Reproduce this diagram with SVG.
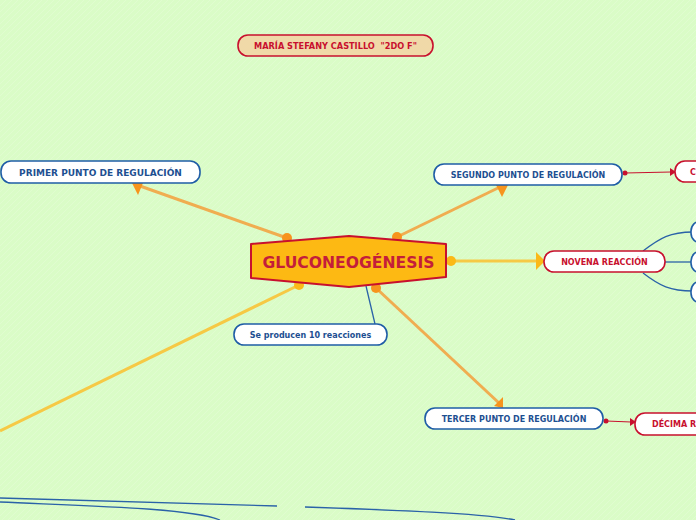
<svg xmlns="http://www.w3.org/2000/svg" width="696" height="520" viewBox="0 0 696 520">
<defs>
<pattern id="bg" width="6" height="6" patternUnits="userSpaceOnUse">
<rect width="6" height="6" fill="#dafcc7"/>
<path d="M-1,7 L7,-1 M-1,1 L1,-1 M5,7 L7,5" stroke="#e0fcd0" stroke-width="1"/>
</pattern>
<style>
.t{font-family:"DejaVu Sans",Verdana,sans-serif;font-weight:bold;text-anchor:middle;}
.bn rect{fill:#ffffff;stroke:#1f5da6;stroke-width:1.6;}
.rn rect{fill:#ffffff;stroke:#c8102e;stroke-width:1.6;}
.bt{fill:#1d4f91;font-size:8px;}
.rt{fill:#c8102e;font-size:8px;}
.ol{stroke:#f0ad50;stroke-width:3;fill:none;}
.yl{stroke:#f6c945;stroke-width:3;fill:none;}
.bl{stroke:#2a62a8;stroke-width:1.3;fill:none;}
.rl{stroke:#c8102e;stroke-width:1;fill:none;}
.od{fill:#f7941d;}
.yd{fill:#fbb917;}
</style>
</defs>
<rect width="696" height="520" fill="url(#bg)"/>

<g id="connectors">
<line class="ol" x1="287" y1="238" x2="140" y2="186"/>
<polygon class="od" points="132,183 143,183 138,195"/>
<line class="ol" x1="397" y1="237" x2="500" y2="187"/>
<polygon class="od" points="496,185 508,185 502,197"/>
<line class="ol" x1="376" y1="288" x2="499" y2="403"/>
<polygon class="od" points="494,406 503,397 503,408"/>
<line class="yl" x1="451" y1="261" x2="538" y2="261"/>
<polygon class="yd" points="536,252 545,261 536,270"/>
<line class="yl" x1="299" y1="285" x2="0" y2="431"/>
<line class="bl" x1="366" y1="286" x2="375" y2="324"/>
<circle class="od" cx="287" cy="238" r="5"/>
<circle class="od" cx="397" cy="237" r="5"/>
<circle class="yd" cx="451" cy="261" r="5"/>
<circle class="od" cx="376" cy="288" r="5"/>
<circle class="yd" cx="299" cy="285" r="5"/>
<line class="rl" x1="625" y1="173" x2="671" y2="172"/>
<circle fill="#c8102e" cx="625" cy="173" r="2.5"/>
<polygon fill="#c8102e" points="670,168 676,172 670,176"/>
<line class="rl" x1="606" y1="421" x2="631" y2="422"/>
<circle fill="#c8102e" cx="606" cy="421" r="2.5"/>
<polygon fill="#c8102e" points="630,418 636,422 630,426"/>
<path class="bl" d="M643,251 C660,238 670,232 693,232"/>
<line class="bl" x1="665" y1="262" x2="693" y2="262"/>
<path class="bl" d="M643,273 C660,286 670,291 693,291"/>
<line class="bl" x1="0" y1="498" x2="277" y2="506"/>
<path class="bl" d="M0,502 C90,506 190,508 220,520"/>
<path class="bl" d="M305,507 C390,510 480,513 515,520"/>
</g>

<g id="central">
<polygon points="251,244 349,236 446,244 446,277 349,287 251,278" fill="#fdb913" stroke="#c8102e" stroke-width="2" stroke-linejoin="round"/>
<text class="t" x="348.5" y="267.5" font-size="15.6" fill="#c41e3a">GLUCONEOGÉNESIS</text>
</g>

<g id="autor">
<rect x="238" y="35" width="195" height="21" rx="10" fill="#f0d9a8" stroke="#c8102e" stroke-width="1.6"/>
<text class="t" x="335.5" y="49" font-size="8.2" fill="#c8102e" style="white-space:pre">MARÍA STEFANY CASTILLO  "2DO F"</text>
</g>

<g id="primer" class="bn">
<rect x="1" y="161" width="199" height="22" rx="10"/>
<text class="t bt" x="100.5" y="175.5" style="font-size:9px">PRIMER PUNTO DE REGULACIÓN</text>
</g>

<g id="segundo" class="bn">
<rect x="434" y="164" width="188" height="21" rx="10"/>
<text class="t bt" x="528" y="177.5">SEGUNDO PUNTO DE REGULACIÓN</text>
</g>

<g id="segundo-hijo" class="rn">
<rect x="675" y="161" width="60" height="21" rx="10"/>
<text class="t rt" x="693" y="174.5">C</text>
</g>

<g id="novena" class="rn">
<rect x="544" y="251" width="121" height="21" rx="10"/>
<text class="t rt" x="604.5" y="264.5">NOVENA REACCIÓN</text>
</g>

<g id="novena-1" class="bn"><rect x="691" y="221" width="40" height="22" rx="10"/></g>
<g id="novena-2" class="bn"><rect x="691" y="251" width="40" height="22" rx="10"/></g>
<g id="novena-3" class="bn"><rect x="691" y="281" width="40" height="22" rx="10"/></g>

<g id="reacciones" class="bn">
<rect x="234" y="324" width="153" height="21" rx="10"/>
<text class="t bt" x="310.5" y="337.5">Se producen 10 reacciones</text>
</g>

<g id="tercer" class="bn">
<rect x="425" y="408" width="178" height="21" rx="10"/>
<text class="t bt" x="514" y="421.5">TERCER PUNTO DE REGULACIÓN</text>
</g>

<g id="decima" class="rn">
<rect x="635" y="413" width="100" height="22" rx="10"/>
<text class="t rt" x="652" y="427" style="text-anchor:start">DÉCIMA R</text>
</g>
</svg>
